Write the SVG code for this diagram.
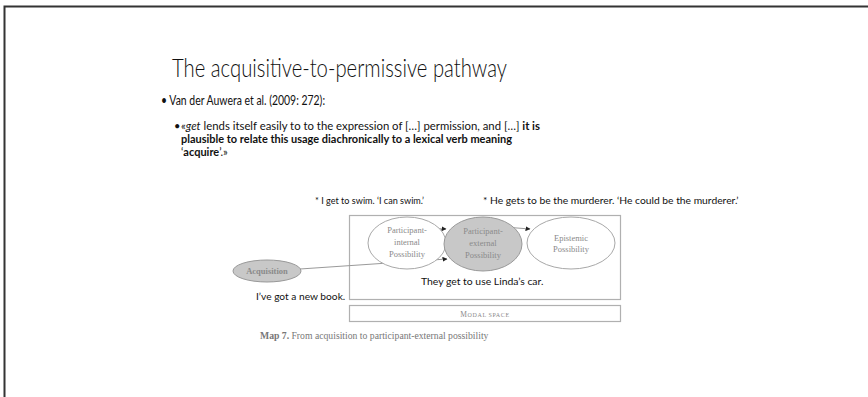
<svg xmlns="http://www.w3.org/2000/svg" width="868" height="397" viewBox="0 0 868 397">
<style>
.slide{font-family:Lato,"Open Sans","Liberation Sans",sans-serif;fill:#111}
.ser{font-family:"Liberation Serif",serif;fill:#8a8a8a;font-size:8.5px;text-anchor:middle}
.ell{fill:#fff;stroke:#a8a8a8;stroke-width:1}
.ellg{fill:#c8c8c8;stroke:#999;stroke-width:1}
.box{fill:#fff;stroke:#b0b0b0;stroke-width:1.2}
.con{fill:none;stroke:#9a9a9a;stroke-width:1}
.ex{font-family:Lato,"Open Sans","Liberation Sans",sans-serif;fill:#111;font-size:9px}
</style>
<defs>
<marker id="ah" viewBox="0 0 10 10" refX="9" refY="5" markerWidth="5" markerHeight="5" orient="auto">
<path d="M0,0 L10,5 L0,10 z" fill="#222"/>
</marker>
</defs>
<rect width="868" height="397" fill="#fff"/>
<path d="M4.5,397 V6.5 H868" fill="none" stroke="#333" stroke-width="2"/>
<g id="title"><text class="slide" x="172" y="77" font-size="25" font-weight="300" textLength="335" lengthAdjust="spacingAndGlyphs">The acquisitive-to-permissive pathway</text></g>
<g id="bullets">
<text class="slide" x="161" y="105" font-size="12.5" textLength="164" lengthAdjust="spacingAndGlyphs">• Van der Auwera et al. (2009: 272):</text>
<text class="slide" x="174" y="130" font-size="11">•</text>
<text class="slide" x="181" y="130" font-size="11" textLength="359" lengthAdjust="spacingAndGlyphs">«<tspan font-style="italic">get</tspan> lends itself easily to to the expression of […] permission, and […] <tspan font-weight="bold">it is</tspan></text>
<text class="slide" x="181" y="143" font-size="11" font-weight="bold" textLength="331" lengthAdjust="spacingAndGlyphs">plausible to relate this usage diachronically to a lexical verb meaning</text>
<text class="slide" x="181" y="156" font-size="11">‘<tspan font-weight="bold">acquire</tspan>’.»</text>
</g>
<g id="modal-space-box"><rect class="box" x="349.5" y="215.5" width="271" height="84"/></g>
<g id="modal-space-label"><rect class="box" x="349.5" y="305.5" width="271" height="16"/>
<text class="ser" x="485" y="316.5" style="font-size:7.5px" letter-spacing="0.6">M<tspan style="font-size:6px">ODAL SPACE</tspan></text></g>
<g id="examples">
<text class="ex" x="315" y="204" style="font-size:9.1px">* I get to swim. ‘I can swim.’</text>
<text class="ex" x="483" y="204" style="font-size:10.3px">* He gets to be the murderer. ‘He could be the murderer.’</text>
<text class="ex" x="421" y="285" style="font-size:10.4px">They get to use Linda’s car.</text>
<text class="ex" x="256" y="300" style="font-size:10.2px">I’ve got a new book.</text>
</g>
<g id="connectors">
<path class="con" d="M424,228 L446,229" marker-end="url(#ah)"/>
<path class="con" d="M504,227 L530,229" marker-end="url(#ah)"/>
<path class="con" d="M300,269 L447,259" marker-end="url(#ah)"/>
</g>
<g id="participant-internal"><ellipse class="ell" cx="407" cy="243" rx="39" ry="26"/>
<text class="ser" x="407" y="233">Participant-</text><text class="ser" x="407" y="245">internal</text><text class="ser" x="407" y="257">Possibility</text></g>
<g id="participant-external"><ellipse class="ellg" cx="483" cy="244" rx="39" ry="27"/>
<text class="ser" x="483" y="234">Participant-</text><text class="ser" x="483" y="246">external</text><text class="ser" x="483" y="258">Possibility</text></g>
<g id="epistemic"><ellipse class="ell" cx="571" cy="243" rx="44" ry="26"/>
<text class="ser" x="571" y="241">Epistemic</text><text class="ser" x="571" y="252">Possibility</text></g>
<g id="acquisition"><ellipse class="ellg" cx="267" cy="271" rx="34" ry="11"/>
<text class="ser" x="267" y="274" font-weight="bold">Acquisition</text></g>
<g id="caption"><text class="ser" x="260" y="339" style="font-size:9.7px;fill:#777;text-anchor:start"><tspan font-weight="bold">Map 7.</tspan>  From acquisition to participant-external possibility</text></g>
</svg>
